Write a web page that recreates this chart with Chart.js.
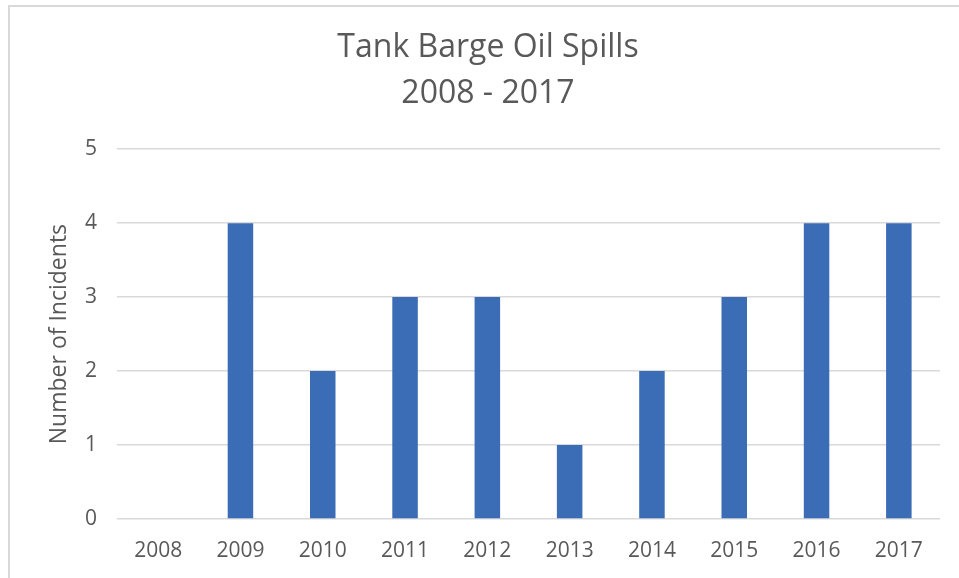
<!DOCTYPE html>
<html>
<head>
<meta charset="utf-8">
<script src="https://cdn.jsdelivr.net/npm/chart.js@4/dist/chart.umd.min.js"></script>
<style>
  html, body { margin: 0; padding: 0; background: #fff; }
  #wrap { position: relative; width: 959px; height: 578px; }
  #frame { position: absolute; left: 8px; top: 5px; right: -5px; bottom: -5px;
           border-left: 2px solid #d9d9d9; border-top: 2px solid #d9d9d9; pointer-events: none; }
  canvas { position: absolute; left: 0; top: 0; }
</style>
</head>
<body>
<div id="wrap">
  <canvas id="spillChart" width="959" height="578"></canvas>
  <div id="frame"></div>
</div>
<script>
const years = ['2008', '2009', '2010', '2011', '2012', '2013', '2014', '2015', '2016', '2017'];
const incidents = [0, 4, 2, 3, 3, 1, 2, 3, 4, 4];
const titleLines = ['Tank Barge Oil Spills', '2008 - 2017'];
const yAxisLabel = 'Number of Incidents';

const TEXT_COLOR = '#595959';
const GRID_COLOR = '#d9d9d9';
const BAR_COLOR = '#3a6db5';
const FONT = '"Open Sans", "Liberation Sans", sans-serif';

const ctx = document.getElementById('spillChart').getContext('2d');

new Chart(ctx, {
  type: 'bar',
  data: {
    labels: years,
    datasets: [{
      data: incidents,
      backgroundColor: BAR_COLOR,
      borderWidth: 0,
      barPercentage: 0.31,
      categoryPercentage: 1
    }]
  },
  options: {
    responsive: false,
    animation: false,
    devicePixelRatio: 1,
    layout: { padding: { left: 36, right: 19, top: 0, bottom: 0 } },
    plugins: {
      legend: { display: false },
      tooltip: { enabled: false },
      title: {
        display: true,
        text: titleLines,
        color: TEXT_COLOR,
        font: { family: FONT, size: 32, weight: 'normal', lineHeight: 1.44 },
        padding: { top: 25, bottom: 32 }
      }
    },
    scales: {
      x: {
        grid: { display: false },
        border: { display: false },
        ticks: {
          color: TEXT_COLOR,
          font: { family: FONT, size: 21 },
          maxRotation: 0,
          padding: 11
        },
        afterFit(scale) { scale.height = 59; }
      },
      y: {
        min: 0,
        max: 5,
        ticks: {
          stepSize: 1,
          color: TEXT_COLOR,
          font: { family: FONT, size: 21 },
          padding: 20
        },
        grid: { color: GRID_COLOR, lineWidth: 1.5, drawTicks: false },
        border: { display: false },
        title: {
          display: true,
          text: yAxisLabel,
          color: TEXT_COLOR,
          font: { family: FONT, size: 23 },
          padding: { top: 10, bottom: 6 }
        },
        afterFit(scale) { scale.width = 81; }
      }
    }
  }
});
</script>
</body>
</html>
